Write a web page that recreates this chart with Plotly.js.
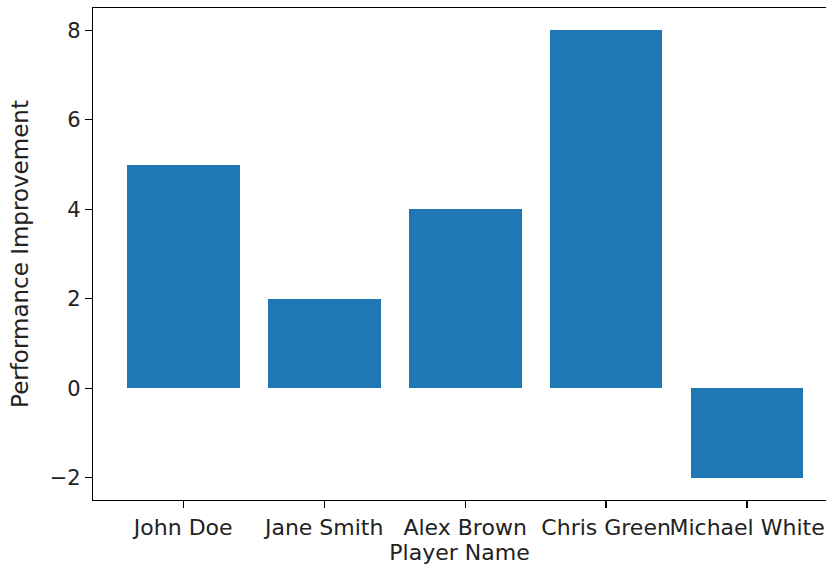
<!DOCTYPE html>
<html>
<head>
<meta charset="utf-8">
<script src="https://cdn.plot.ly/plotly-3.0.1.min.js"></script>
<style>html,body{margin:0;padding:0;background:#fff;}#chart{width:826px;height:568px;}</style>
</head>
<body>
<div id="chart"></div>
<script>
const players = ["John Doe", "Jane Smith", "Alex Brown", "Chris Green", "Michael White"];
const improvement = [5, 2, 4, 8, -2];
const yTicks = [-2, 0, 2, 4, 6, 8];
const yTickText = ["\u22122", "0", "2", "4", "6", "8"];

const font = {family: "DejaVu Sans", size: 22, color: "#222"};
const yTickFont = {family: "DejaVu Sans", size: 21, color: "#222"};
const yTitleFont = {family: "DejaVu Sans", size: 23, color: "#222"};

Plotly.newPlot("chart", [{
  type: "bar",
  x: players,
  y: improvement,
  width: 0.8,
  marker: {color: "#1f77b4", line: {width: 0}},
  hoverinfo: "none"
}], {
  width: 826, height: 568,
  margin: {l: 93, r: 0, t: 8, b: 68},
  paper_bgcolor: "#fff", plot_bgcolor: "#fff",
  font: font,
  showlegend: false,
  bargap: 0,
  xaxis: {
    type: "category",
    range: [-0.64, 4.56],
    tickangle: 0,
    showgrid: false, zeroline: false,
    showline: true, linecolor: "#000", linewidth: 1.2, mirror: true,
    ticks: "outside", ticklen: 7, tickwidth: 1.2, tickcolor: "#000",
    tickfont: font,
    title: {text: "Player Name", font: font, standoff: 5}
  },
  yaxis: {
    range: [-2.5, 8.5],
    tickvals: yTicks, ticktext: yTickText,
    showgrid: false, zeroline: false,
    showline: true, linecolor: "#000", linewidth: 1.2,
    ticks: "outside", ticklen: 7, tickwidth: 1.2, tickcolor: "#000",
    tickfont: yTickFont,
    title: {text: "Performance Improvement", font: yTitleFont, standoff: 14}
  }
}, {staticPlot: true});
</script>
</body>
</html>
